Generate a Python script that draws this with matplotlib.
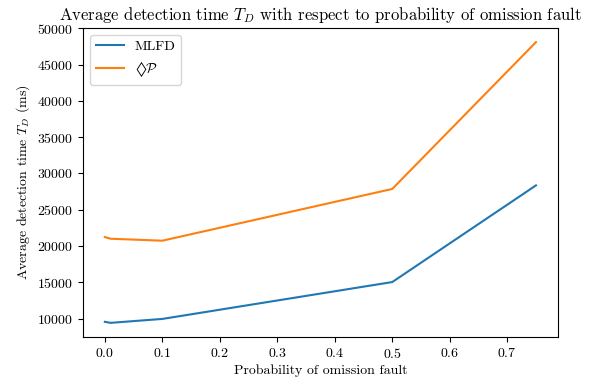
import matplotlib
matplotlib.use('Agg')
import matplotlib.pyplot as plt

plt.rcParams['font.family'] = 'serif'
plt.rcParams['font.serif'] = ['cmr10']
plt.rcParams['mathtext.fontset'] = 'cm'
plt.rcParams['axes.unicode_minus'] = False
plt.rcParams['axes.formatter.use_mathtext'] = True

# probability of omission fault
p_omission = [0.0, 0.01, 0.1, 0.5, 0.75]
# average detection time (ms)
mlfd = [9550, 9410, 9950, 15030, 28350]
diamond_p = [21230, 21000, 20730, 27860, 48090]

fig, ax = plt.subplots(figsize=(5.95, 3.85), dpi=100)
ax.plot(p_omission, mlfd, label='MLFD', linewidth=1.5)
ax.plot(p_omission, diamond_p, label='$\u25ca\\mathcal{P}$', linewidth=1.5)
ax.set_title(r'Average detection time $T_D$ with respect to probability of omission fault', fontsize=12)
ax.set_xlabel('Probability of omission fault', fontsize=10, labelpad=3)
ax.set_ylabel(r'Average detection time $T_D$ (ms)', fontsize=10)
ax.tick_params(labelsize=10)
ax.legend(loc='upper left', fontsize=10)

fig.subplots_adjust(left=0.14, right=0.937, top=0.927, bottom=0.125)
fig.savefig('out.png', dpi=100)
